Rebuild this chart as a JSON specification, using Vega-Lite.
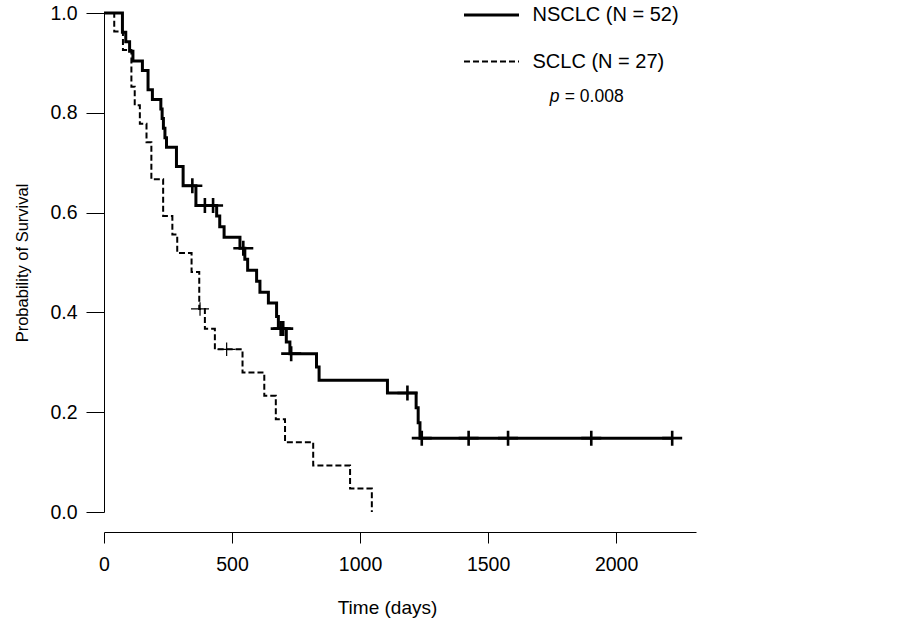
{
  "$schema": "https://vega.github.io/schema/vega-lite/v6.json",
  "width": 592,
  "height": 499,
  "autosize": "none",
  "padding": {"left": 104, "top": 13, "right": 207, "bottom": 112},
  "background": "white",
  "config": {
    "view": {"stroke": null},
    "font": "Liberation Sans",
    "axis": {"grid": false, "domainColor": "black", "tickColor": "black", "labelColor": "black", "titleColor": "black", "domainWidth": 1, "tickWidth": 1, "labelFont": "Liberation Sans", "titleFont": "Liberation Sans", "titleFontWeight": "normal", "labelFlush": false}
  },
  "datasets": {
    "curves": [
      {"group": "NSCLC (N = 52)", "t": 0, "s": 1.0},
      {"group": "NSCLC (N = 52)", "t": 72, "s": 0.9615},
      {"group": "NSCLC (N = 52)", "t": 85, "s": 0.9423},
      {"group": "NSCLC (N = 52)", "t": 100, "s": 0.9231},
      {"group": "NSCLC (N = 52)", "t": 113, "s": 0.9038},
      {"group": "NSCLC (N = 52)", "t": 150, "s": 0.8846},
      {"group": "NSCLC (N = 52)", "t": 172, "s": 0.8462},
      {"group": "NSCLC (N = 52)", "t": 189, "s": 0.8269},
      {"group": "NSCLC (N = 52)", "t": 222, "s": 0.8077},
      {"group": "NSCLC (N = 52)", "t": 227, "s": 0.7885},
      {"group": "NSCLC (N = 52)", "t": 232, "s": 0.7692},
      {"group": "NSCLC (N = 52)", "t": 238, "s": 0.75},
      {"group": "NSCLC (N = 52)", "t": 244, "s": 0.7308},
      {"group": "NSCLC (N = 52)", "t": 283, "s": 0.6923},
      {"group": "NSCLC (N = 52)", "t": 309, "s": 0.6538},
      {"group": "NSCLC (N = 52)", "t": 359, "s": 0.6142},
      {"group": "NSCLC (N = 52)", "t": 440, "s": 0.593},
      {"group": "NSCLC (N = 52)", "t": 452, "s": 0.5718},
      {"group": "NSCLC (N = 52)", "t": 469, "s": 0.5506},
      {"group": "NSCLC (N = 52)", "t": 531, "s": 0.5286},
      {"group": "NSCLC (N = 52)", "t": 550, "s": 0.5066},
      {"group": "NSCLC (N = 52)", "t": 561, "s": 0.4846},
      {"group": "NSCLC (N = 52)", "t": 596, "s": 0.4626},
      {"group": "NSCLC (N = 52)", "t": 609, "s": 0.4406},
      {"group": "NSCLC (N = 52)", "t": 642, "s": 0.4186},
      {"group": "NSCLC (N = 52)", "t": 674, "s": 0.392},
      {"group": "NSCLC (N = 52)", "t": 681, "s": 0.3675},
      {"group": "NSCLC (N = 52)", "t": 712, "s": 0.3407},
      {"group": "NSCLC (N = 52)", "t": 726, "s": 0.3173},
      {"group": "NSCLC (N = 52)", "t": 830, "s": 0.2907},
      {"group": "NSCLC (N = 52)", "t": 840, "s": 0.264},
      {"group": "NSCLC (N = 52)", "t": 1107, "s": 0.2385},
      {"group": "NSCLC (N = 52)", "t": 1219, "s": 0.209},
      {"group": "NSCLC (N = 52)", "t": 1227, "s": 0.179},
      {"group": "NSCLC (N = 52)", "t": 1234, "s": 0.148},
      {"group": "NSCLC (N = 52)", "t": 2219, "s": 0.148},
      {"group": "SCLC (N = 27)", "t": 0, "s": 1.0},
      {"group": "SCLC (N = 27)", "t": 40, "s": 0.963},
      {"group": "SCLC (N = 27)", "t": 74, "s": 0.926},
      {"group": "SCLC (N = 27)", "t": 107, "s": 0.852},
      {"group": "SCLC (N = 27)", "t": 120, "s": 0.815},
      {"group": "SCLC (N = 27)", "t": 140, "s": 0.778},
      {"group": "SCLC (N = 27)", "t": 166, "s": 0.741},
      {"group": "SCLC (N = 27)", "t": 185, "s": 0.667},
      {"group": "SCLC (N = 27)", "t": 231, "s": 0.593},
      {"group": "SCLC (N = 27)", "t": 267, "s": 0.556},
      {"group": "SCLC (N = 27)", "t": 286, "s": 0.519},
      {"group": "SCLC (N = 27)", "t": 342, "s": 0.481},
      {"group": "SCLC (N = 27)", "t": 372, "s": 0.407},
      {"group": "SCLC (N = 27)", "t": 394, "s": 0.367},
      {"group": "SCLC (N = 27)", "t": 433, "s": 0.326},
      {"group": "SCLC (N = 27)", "t": 541, "s": 0.2795},
      {"group": "SCLC (N = 27)", "t": 626, "s": 0.233},
      {"group": "SCLC (N = 27)", "t": 671, "s": 0.186},
      {"group": "SCLC (N = 27)", "t": 707, "s": 0.14},
      {"group": "SCLC (N = 27)", "t": 817, "s": 0.093},
      {"group": "SCLC (N = 27)", "t": 961, "s": 0.047},
      {"group": "SCLC (N = 27)", "t": 1046, "s": 0.0}
    ],
    "censor": [
      {"group": "NSCLC (N = 52)", "t": 345, "s": 0.6538},
      {"group": "NSCLC (N = 52)", "t": 394, "s": 0.6142},
      {"group": "NSCLC (N = 52)", "t": 426, "s": 0.6142},
      {"group": "NSCLC (N = 52)", "t": 544, "s": 0.5286},
      {"group": "NSCLC (N = 52)", "t": 690, "s": 0.3675},
      {"group": "NSCLC (N = 52)", "t": 700, "s": 0.3675},
      {"group": "NSCLC (N = 52)", "t": 731, "s": 0.3173},
      {"group": "NSCLC (N = 52)", "t": 1185, "s": 0.2385},
      {"group": "NSCLC (N = 52)", "t": 1241, "s": 0.148},
      {"group": "NSCLC (N = 52)", "t": 1424, "s": 0.148},
      {"group": "NSCLC (N = 52)", "t": 1578, "s": 0.148},
      {"group": "NSCLC (N = 52)", "t": 1903, "s": 0.148},
      {"group": "NSCLC (N = 52)", "t": 2219, "s": 0.148},
      {"group": "SCLC (N = 27)", "t": 375, "s": 0.407},
      {"group": "SCLC (N = 27)", "t": 479, "s": 0.326}
    ],
    "annot": [
      {"t": 1741, "s": 0.8216, "italic": "p", "rest": "= 0.008"}
    ]
  },
  "layer": [
    {
      "data": {"name": "curves"},
      "mark": {"type": "line", "interpolate": "step-after", "color": "black", "strokeCap": "butt"},
      "encoding": {
        "x": {
          "field": "t", "type": "quantitative",
          "scale": {"domain": [0, 2312], "nice": false, "zero": false},
          "axis": {"values": [0, 500, 1000, 1500, 2000], "format": "d", "offset": 20, "tickSize": 11, "labelPadding": 12, "labelFontSize": 19.5, "title": "Time (days)", "titleFontSize": 19, "titlePadding": 25, "titleX": 283, "titleAnchor": "start", "titleAlign": "center"}
        },
        "y": {
          "field": "s", "type": "quantitative",
          "scale": {"domain": [0, 1], "nice": false},
          "axis": {"values": [0, 0.2, 0.4, 0.6, 0.8, 1.0], "format": ".1f", "tickSize": 18, "labelPadding": 9, "labelFontSize": 19.5, "title": "Probability of Survival", "titleFontSize": 16.5, "titlePadding": 19}
        },
        "strokeDash": {
          "field": "group", "type": "ordinal",
          "scale": {"domain": ["NSCLC (N = 52)", "SCLC (N = 27)"], "range": [[1, 0], [6, 3]]},
          "legend": {"title": null, "orient": "none", "legendX": 358.5, "legendY": -27, "symbolType": "stroke", "symbolSize": 3025, "symbolStrokeColor": "black", "labelFontSize": 20, "labelColor": "black", "labelOffset": 12, "rowPadding": 8, "padding": 0, "labelLimit": 300}
        },
        "strokeWidth": {
          "field": "group", "type": "ordinal",
          "scale": {"domain": ["NSCLC (N = 52)", "SCLC (N = 27)"], "range": [3, 2]},
          "legend": {"title": null, "orient": "none", "legendX": 358.5, "legendY": -27, "symbolType": "stroke", "symbolSize": 3025, "symbolStrokeColor": "black", "labelFontSize": 20, "labelColor": "black", "labelOffset": 12, "rowPadding": 8, "padding": 0, "labelLimit": 300}
        }
      }
    },
    {
      "data": {"name": "censor"},
      "transform": [{"filter": "datum.group === 'NSCLC (N = 52)'"}],
      "mark": {"type": "point", "shape": "M-1,0L1,0M0,-0.75L0,0.75", "filled": false, "stroke": "black", "strokeWidth": 2.6, "size": 400, "opacity": 1},
      "encoding": {
        "x": {"field": "t", "type": "quantitative"},
        "y": {"field": "s", "type": "quantitative"}
      }
    },
    {
      "data": {"name": "censor"},
      "transform": [{"filter": "datum.group === 'SCLC (N = 27)'"}],
      "mark": {"type": "point", "shape": "M-1,0L1,0M0,-0.75L0,0.75", "filled": false, "stroke": "black", "strokeWidth": 1.2, "size": 324, "opacity": 1},
      "encoding": {
        "x": {"field": "t", "type": "quantitative"},
        "y": {"field": "s", "type": "quantitative"}
      }
    },
    {
      "data": {"name": "annot"},
      "mark": {"type": "text", "align": "left", "baseline": "alphabetic", "fontSize": 17.5, "fontStyle": "italic", "color": "black", "font": "Liberation Sans"},
      "encoding": {
        "x": {"field": "t", "type": "quantitative"},
        "y": {"field": "s", "type": "quantitative"},
        "text": {"field": "italic"}
      }
    },
    {
      "data": {"name": "annot"},
      "mark": {"type": "text", "align": "left", "baseline": "alphabetic", "fontSize": 17.5, "dx": 15, "color": "black", "font": "Liberation Sans"},
      "encoding": {
        "x": {"field": "t", "type": "quantitative"},
        "y": {"field": "s", "type": "quantitative"},
        "text": {"field": "rest"}
      }
    }
  ]
}
